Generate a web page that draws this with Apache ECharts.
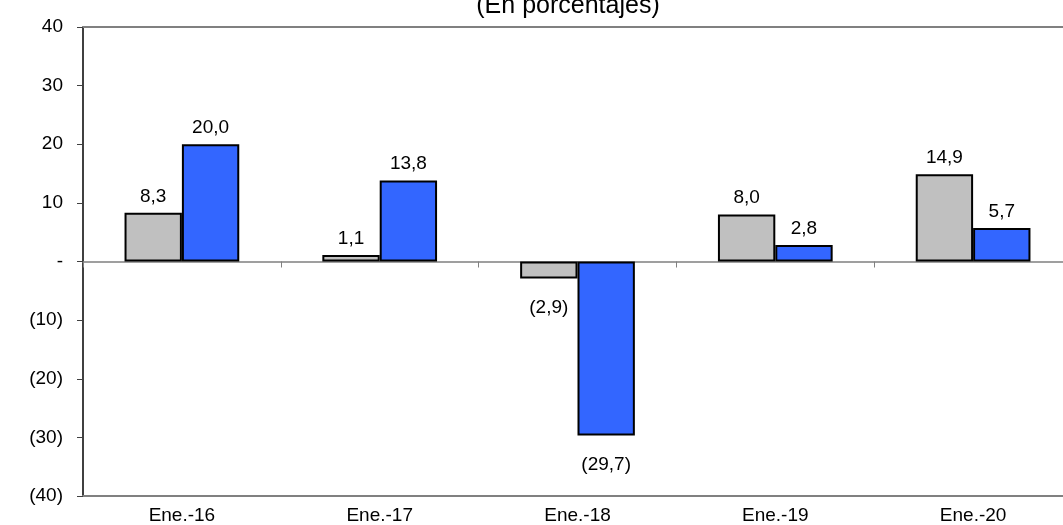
<!DOCTYPE html>
<html>
<head>
<meta charset="utf-8">
<script src="https://cdn.jsdelivr.net/npm/echarts@6/dist/echarts.min.js"></script>
<style>
html,body{margin:0;padding:0;background:#fff;}
#chart{width:1063px;height:525px;}
</style>
</head>
<body>
<div id="chart"></div>
<script>
var categories = ["Ene.-16", "Ene.-17", "Ene.-18", "Ene.-19", "Ene.-20"];
var seriesGray = [8.3, 1.1, -2.9, 8.0, 14.9];
var seriesBlue = [20.0, 13.8, -29.7, 2.8, 5.7];
var yTicks = [-40, -30, -20, -10, 0, 10, 20, 30, 40];
var titleText = "(En porcentajes)";

var FONT = "'Liberation Sans', Arial, sans-serif";

function fmtNum(v) {
  if (v === 0) return "-";
  var s = Math.abs(v).toFixed(1).replace(".", ",");
  return v < 0 ? "(" + s + ")" : s;
}
function fmtAxis(v) {
  if (v === 0) return "-";
  return v < 0 ? "(" + Math.abs(v) + ")" : String(v);
}

var chart = echarts.init(document.getElementById("chart"), null, {renderer: "canvas"});
var labelCommon = {
  show: true,
  color: "#000",
  fontFamily: FONT,
  fontSize: 19,
  formatter: function (p) { return fmtNum(p.value); }
};
function makeData(arr) {
  return arr.map(function (v) {
    return {value: v, label: {position: v < 0 ? "bottom" : "top", distance: v < 0 ? 20 : 7}};
  });
}
chart.setOption({
  animation: false,
  title: {
    text: titleText,
    left: 563,
    textAlign: "center",
    top: -11,
    textStyle: {fontFamily: FONT, fontSize: 25, fontWeight: "normal", color: "#000"}
  },
  grid: {left: 83, top: 27, width: 989, height: 469, containLabel: false, outerBoundsMode: "none"},
  xAxis: [
    {
      type: "category",
      data: categories,
      position: "bottom",
      axisLine: {onZero: false, lineStyle: {color: "#808080", width: 2}},
      axisTick: {show: false},
      axisLabel: {color: "#000", fontFamily: FONT, fontSize: 19, margin: 10}
    },
    {
      type: "category",
      data: categories,
      position: "bottom",
      axisLine: {onZero: true, lineStyle: {color: "#808080", width: 1.5}},
      axisTick: {show: true, length: 6, lineStyle: {color: "#808080"}},
      axisLabel: {show: false}
    },
    {
      type: "category",
      data: categories,
      position: "top",
      axisLine: {onZero: false, lineStyle: {color: "#808080", width: 2}},
      axisTick: {show: false},
      axisLabel: {show: false}
    }
  ],
  yAxis: {
    type: "value",
    min: yTicks[0],
    max: yTicks[yTicks.length - 1],
    interval: 10,
    axisLine: {show: true, lineStyle: {color: "#000", width: 1.5}},
    axisTick: {show: true, length: 6, lineStyle: {color: "#404040"}},
    splitLine: {show: false},
    axisLabel: {color: "#000", fontFamily: FONT, fontSize: 19, margin: 20, formatter: fmtAxis}
  },
  series: [
    {
      type: "bar",
      xAxisIndex: 0,
      data: makeData(seriesGray),
      barGap: "0%",
      barCategoryGap: "42%",
      itemStyle: {color: "#C0C0C0", borderColor: "#000", borderWidth: 2},
      label: labelCommon
    },
    {
      type: "bar",
      xAxisIndex: 0,
      data: makeData(seriesBlue),
      itemStyle: {color: "#3366FF", borderColor: "#000", borderWidth: 2},
      label: labelCommon
    }
  ]
});
</script>
</body>
</html>
